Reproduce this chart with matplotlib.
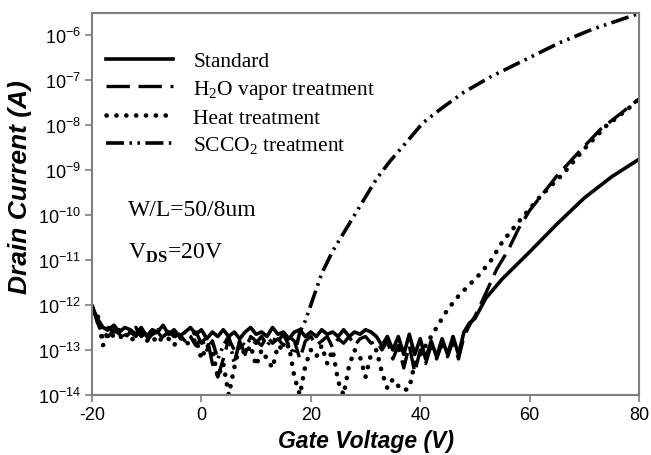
import numpy as np
import matplotlib.pyplot as plt

plt.rcParams["mathtext.fontset"] = "custom"
plt.rcParams["mathtext.rm"] = "Liberation Serif"
plt.rcParams["mathtext.bf"] = "Liberation Serif:bold"

# Gate voltage / log10(drain current)
std_v = list(range(-20, 49)) + [49, 50, 52, 55, 60, 65, 70, 75, 80]
std_log = [-12.05, -12.3, -12.5, -12.55, -12.45, -12.6, -12.5, -12.55, -12.65, -12.5,
           -12.7, -12.55, -12.6, -12.45, -12.65, -12.55, -12.7, -12.6, -12.5, -12.65,
           -12.55, -12.75, -12.6, -12.7, -12.55, -12.7, -12.6, -12.75, -12.6, -12.5,
           -12.65, -12.6, -12.7, -12.5, -12.65, -12.6, -12.75, -12.6, -12.55, -12.7,
           -12.6, -12.7, -12.55, -12.65, -12.6, -12.7, -12.55, -12.7, -12.6, -12.65,
           -12.55, -12.6, -12.7, -12.9, -12.7, -13.0, -12.7, -13.1, -12.65, -13.1,
           -12.75, -13.2, -12.8, -13.15, -12.75, -13.1, -12.7, -13.1, -12.6,
           -12.4, -12.3, -11.85, -11.42, -10.82, -10.2, -9.62, -9.15, -8.76]

h2o_v = list(range(-20, 49)) + [49, 50, 51, 54, 56, 58, 60, 65, 69, 73, 77, 80]
h2o_log = [-12.0, -12.4, -12.6, -12.7, -12.55, -12.65, -12.75, -12.6, -12.7, -12.55,
           -12.8, -12.65, -12.6, -12.75, -12.6, -12.7, -12.65, -12.8, -12.7, -12.6,
           -12.85, -12.7, -13.3, -13.6, -13.2, -12.75, -13.0, -12.8, -13.1, -12.7,
           -12.8, -12.9, -12.7, -12.85, -12.75, -12.9, -12.7, -12.8, -13.2, -12.8,
           -12.7, -12.9, -12.8, -12.7, -12.95, -12.75, -12.85, -12.7, -12.9, -12.75,
           -12.7, -12.85, -12.8, -13.0, -12.8, -13.2, -12.9, -13.4, -12.9, -13.5,
           -13.0, -13.3, -12.9, -13.2, -12.85, -13.15, -12.8, -13.2, -12.7,
           -12.45, -12.25, -12.0, -11.2, -10.8, -10.3, -9.9, -9.13, -8.6, -8.09, -7.71, -7.42]

heat_v = list(range(-20, 43)) + [43, 45, 47, 49, 51, 53, 55, 58, 62, 66, 70, 74, 78, 80]
heat_log = [-12.1, -12.2, -12.9, -12.6, -12.7, -12.75, -12.6, -12.8, -12.7, -12.65,
            -12.8, -12.7, -12.85, -12.7, -12.75, -12.9, -12.7, -12.8, -12.9, -12.75,
            -13.2, -12.9, -13.0, -13.6, -13.3, -14.0, -13.4, -12.9, -13.1, -12.9,
            -13.35, -13.0, -13.2, -13.4, -12.9, -13.0, -12.9, -13.6, -14.0, -13.35,
            -13.0, -13.15, -12.9, -13.3, -13.0, -13.7, -14.0, -13.35, -13.0, -13.15,
            -13.6, -13.1, -13.0, -13.5, -13.85, -13.65, -13.8, -13.9, -13.85, -13.3,
            -13.1, -12.9, -12.7,
            -12.5, -12.1, -11.8, -11.55, -11.3, -11.0, -10.6, -10.15, -9.58, -9.1,
            -8.53, -8.02, -7.64, -7.42]

sc_v = list(range(-20, 19)) + [19, 20, 21, 22, 24, 26.5, 29.5, 32, 34.5, 37.5,
                               40.5, 44, 48, 53, 59.5, 65.5, 71.5, 80]
sc_log = [-12.0, -12.35, -12.7, -12.5, -12.6, -12.55, -12.7, -12.6, -12.5, -12.7,
          -12.6, -12.65, -12.55, -12.7, -12.6, -12.65, -12.8, -12.6, -12.7, -12.9,
          -12.75, -13.0, -12.8, -13.2, -12.9, -12.7, -13.3, -12.8, -12.9, -12.75,
          -12.85, -12.7, -12.9, -12.75, -12.8, -12.65, -12.9, -13.1, -12.6,
          -12.35, -12.0, -11.65, -11.3, -10.8, -10.3, -9.7, -9.2, -8.8, -8.38,
          -7.95, -7.62, -7.27, -6.92, -6.53, -6.17, -5.87, -5.52]

labels = ["Standard", r"H$\mathregular{_2}$O vapor treatment", "Heat treatment",
          r"SCCO$\mathregular{_2}$ treatment"]
x_ticks = [-20, 0, 20, 40, 60, 80]
y_exps = list(range(-14, -5))

fig = plt.figure(figsize=(6.51, 4.56), dpi=100)
ax = fig.add_axes([0.1413, 0.1316, 0.8403, 0.8377])

ax.plot(std_v, 10.0 ** np.array(std_log), color="black", lw=2.6, label=labels[0])
ax.plot(h2o_v, 10.0 ** np.array(h2o_log), color="black", lw=2.4,
        linestyle=(0, (7, 2.6)), label=labels[1])
ax.plot(heat_v, 10.0 ** np.array(heat_log), color="black", lw=3.3,
        linestyle=(0, (0.05, 2.1)), dash_capstyle="round", label=labels[2])
ax.plot(sc_v, 10.0 ** np.array(sc_log), color="black", lw=2.6,
        linestyle=(0, (5, 1.5, 0.7, 1.5, 0.7, 1.5)), label=labels[3])

ax.set_yscale("log")
ax.set_xlim(-20, 80)
ax.set_ylim(1e-14, 10 ** -5.51)
ax.set_xticks(x_ticks)
ax.set_xticklabels([str(t) for t in x_ticks])
ax.set_yticks([10.0 ** e for e in y_exps])
ax.set_yticklabels([r"$\mathregular{10^{%d}}$" % e for e in y_exps])
ax.minorticks_off()

for s in ax.spines.values():
    s.set_color("#7f7f7f")
    s.set_linewidth(1.5)
ax.tick_params(direction="out", length=5, width=1.2, color="#7f7f7f",
               labelsize=13, labelcolor="black", pad=3)
for lab in ax.get_xticklabels() + ax.get_yticklabels():
    lab.set_family("Liberation Sans")

ax.set_xlabel("Gate Voltage (V)", fontsize=16.5, fontweight="bold", style="italic",
              family="Liberation Sans", va="top")
ax.xaxis.set_label_coords(0.5, -0.09)
ax.set_ylabel("Drain Current (A)", fontsize=19, fontweight="bold", style="italic",
              family="Liberation Sans")
ax.yaxis.set_label_coords(-0.11, 0.547)

leg = ax.legend(loc="upper left", bbox_to_anchor=(0.01, 0.923), frameon=False,
                prop={"family": "Liberation Serif", "size": 15.5},
                handlelength=3.1, handletextpad=0.95, labelspacing=0.31,
                borderaxespad=0.0)

ax.text(0.066, 0.486, "W/L=50/8um", transform=ax.transAxes, fontsize=17,
        family="Liberation Serif", va="center")
ax.text(0.066, 0.373, r"V$_{\mathbf{DS}}$=20V", transform=ax.transAxes,
        fontsize=17, family="Liberation Serif", va="center")

plt.savefig("out.png", dpi=100)
